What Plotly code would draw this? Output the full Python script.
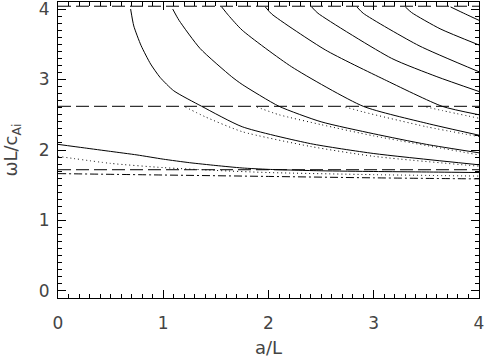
import plotly.graph_objects as go

# ---- data ----
cutoff_levels = [4.04, 2.62, 1.72]          # dashed horizontal lines
dashdot_x = [0.0, 1.0, 2.0, 3.0, 4.0]
dashdot_y = [1.665, 1.645, 1.625, 1.605, 1.59]

fund_x = [0.0, 0.25, 0.5, 0.75, 1.0, 1.25, 1.5, 1.75, 2.0, 2.5, 3.0, 3.5, 4.0]
fund_y = [2.08, 2.03, 1.98, 1.93, 1.87, 1.82, 1.78, 1.745, 1.725, 1.705, 1.695, 1.688, 1.68]

fund_dot_x = [0.0, 0.5, 1.0, 1.5, 2.0, 3.0, 4.0]
fund_dot_y = [1.91, 1.81, 1.75, 1.71, 1.68, 1.65, 1.63]

c1_x = [0.69, 0.72, 0.79, 0.88, 0.97, 1.1, 1.365, 1.75, 2.4, 3.0, 4.0]
c1_y = [4.00, 3.76, 3.48, 3.22, 3.03, 2.84, 2.62, 2.33, 2.09, 1.95, 1.79]
c2_x = [1.09, 1.15, 1.35, 1.65, 1.75, 2.10, 2.5, 3.0, 3.5, 4.0]
c2_y = [4.00, 3.84, 3.44, 3.04, 2.93, 2.62, 2.40, 2.23, 2.08, 1.96]
c3_x = [1.555, 1.62, 1.75, 2.22, 2.90, 3.5, 4.0]
c3_y = [4.03, 3.91, 3.70, 3.18, 2.62, 2.38, 2.21]
c4_x = [1.97, 2.03, 2.54, 3.1, 3.65, 4.0]
c4_y = [4.03, 3.93, 3.42, 3.00, 2.62, 2.50]
c5_x = [2.41, 2.47, 3.17, 3.6, 4.0]
c5_y = [4.03, 3.94, 3.30, 3.04, 2.83]
c6_x = [2.84, 2.9, 3.43, 4.0]
c6_y = [4.03, 3.94, 3.48, 3.11]
c7_x = [3.30, 3.36, 3.63, 4.0]
c7_y = [4.03, 3.95, 3.72, 3.49]
c8_x = [3.73, 3.87, 4.0]
c8_y = [4.03, 3.93, 3.84]

d1_x = [1.21, 1.4, 1.75, 2.4, 3.0, 4.0]
d1_y = [2.61, 2.47, 2.26, 2.05, 1.91, 1.77]
d2_x = [1.89, 2.1, 2.5, 3.0, 4.0]
d2_y = [2.61, 2.50, 2.36, 2.20, 1.93]
d3_x = [2.73, 2.9, 3.5, 4.0]
d3_y = [2.61, 2.54, 2.33, 2.19]
d4_x = [3.50, 3.65, 4.0]
d4_y = [2.61, 2.56, 2.45]

x_ticks = [0, 1, 2, 3, 4]
y_ticks = [0, 1, 2, 3, 4]

fig = go.Figure()

for lvl in cutoff_levels:
    fig.add_trace(go.Scatter(x=[0, 4], y=[lvl, lvl], mode="lines",
                             line=dict(color="black", width=1, dash="13px,5px")))

fig.add_trace(go.Scatter(x=dashdot_x, y=dashdot_y, mode="lines",
                         line=dict(color="black", width=1, dash="8px,3px,2px,3px", shape="spline")))

for xs, ys in [(fund_x, fund_y), (c1_x, c1_y), (c2_x, c2_y), (c3_x, c3_y), (c4_x, c4_y),
               (c5_x, c5_y), (c6_x, c6_y), (c7_x, c7_y), (c8_x, c8_y)]:
    fig.add_trace(go.Scatter(x=xs, y=ys, mode="lines",
                             line=dict(color="black", width=1, shape="spline", smoothing=0.6)))

for xs, ys in [(fund_dot_x, fund_dot_y), (d1_x, d1_y), (d2_x, d2_y), (d3_x, d3_y), (d4_x, d4_y)]:
    fig.add_trace(go.Scatter(x=xs, y=ys, mode="lines",
                             line=dict(color="black", width=1, dash="1px,3px", shape="spline", smoothing=0.6)))

axis_common = dict(
    showgrid=False, zeroline=False, showline=True, linecolor="black", linewidth=1,
    mirror="allticks", ticks="inside", ticklen=8, tickcolor="black", tickwidth=1,
    minor=dict(ticks="inside", ticklen=4, dtick=0.1, tickcolor="black", tickwidth=1),
    tickfont=dict(family="DejaVu Sans", size=17, color="#444"),
    automargin=False, ticklabeloverflow="allow",
)

fig.update_layout(
    width=484, height=362,
    margin=dict(l=58, r=5, t=2, b=64),
    plot_bgcolor="white", paper_bgcolor="white",
    showlegend=False,
    xaxis=dict(range=[0, 4], tickvals=x_ticks, ticktext=[str(v) for v in x_ticks],
               ticklabelstandoff=10,
               title=dict(text="a/L", font=dict(family="DejaVu Sans", size=18, color="#444"), standoff=8),
               **axis_common),
    yaxis=dict(range=[-0.1, 4.1], tickvals=y_ticks, ticktext=[str(v) for v in y_ticks],
               ticklabelstandoff=4,
               title=dict(text="ωL/c<sub>Ai</sub>", font=dict(family="DejaVu Sans", size=18, color="#444"), standoff=18),
               **axis_common),
)

fig.write_html("out.html", config={"displayModeBar": False},
               post_script="document.body.style.margin='0';")
